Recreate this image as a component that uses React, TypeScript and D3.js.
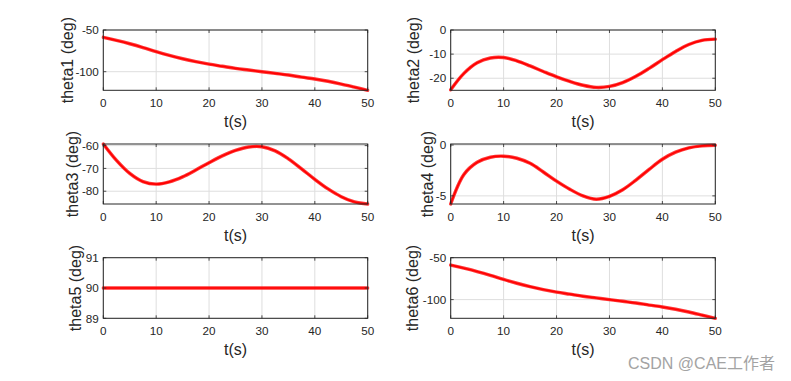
import React from "react";
import * as d3 from "d3";

const times = [0, 2.5, 5, 7.5, 10, 12.5, 15, 17.5, 20, 22.5, 25, 27.5, 30, 32.5, 35, 37.5, 40, 42.5, 45, 47.5, 50];

const theta1 = [-58.8, -62.5, -66.5, -71, -76, -80.5, -84.5, -88, -91, -93.5, -96, -98, -100, -102, -104, -106.5, -108.8, -111.5, -114.8, -118.5, -122.3];
const theta2 = [-24.8, -18, -13.6, -11.6, -11.4, -12.8, -14.9, -17.2, -19.4, -21.3, -22.9, -23.8, -23.4, -21.8, -19.2, -15.9, -12.3, -8.9, -6.0, -4.3, -3.8];
const theta3 = [-59.3, -66.5, -72.2, -75.8, -76.9, -75.9, -73.7, -70.7, -67.5, -64.5, -62.1, -60.6, -60.5, -62.3, -65.8, -70.2, -74.8, -79, -82.4, -84.7, -85.6];
const theta4 = [-5.8, -2.9, -1.7, -1.2, -1.1, -1.3, -1.8, -2.65, -3.55, -4.35, -5.0, -5.33, -5.05, -4.4, -3.45, -2.4, -1.4, -0.7, -0.28, -0.08, -0.03];
const theta5 = [90, 90, 90, 90, 90, 90, 90, 90, 90, 90, 90, 90, 90, 90, 90, 90, 90, 90, 90, 90, 90];
const theta6 = [-58.8, -62.5, -66.5, -71, -76, -80.5, -84.5, -88, -91, -93.5, -96, -98, -100, -102, -104, -106.5, -108.8, -111.5, -114.8, -118.5, -122.3];

const seriesList = [theta1, theta2, theta3, theta4, theta5, theta6];
const yLabels = ["theta1 (deg)", "theta2 (deg)", "theta3 (deg)", "theta4 (deg)", "theta5 (deg)", "theta6 (deg)"];
const yDomains: [number, number][] = [[-122.3, -50], [-25, 0], [-85.6, -59.3], [-5.8, 0.1], [89, 91], [-122.3, -50]];
const yTicks = [[-100, -50], [-20, -10, 0], [-80, -70, -60], [-5, 0], [89, 90, 91], [-100, -50]];
const xTicks = [0, 10, 20, 30, 40, 50];
const xLabel = "t(s)";
const watermark = "CSDN @CAE工作者";

const colLeft = [103.3, 450.7];
const colRight = [367.7, 715.3];
const rowTop = [30, 144, 257.7];
const rowBottom = [90.3, 204, 318.3];
const labelOffsets = [30, 32, 25, 18, 22, 33];

const FONT = "'Liberation Sans', Arial, Helvetica, sans-serif";
const AX = "#262626";

function Panel({ idx }: { idx: number }) {
  const col = idx % 2;
  const row = Math.floor(idx / 2);
  const x0 = colLeft[col], x1 = colRight[col];
  const y0 = rowTop[row], y1 = rowBottom[row];
  const xs = d3.scaleLinear().domain([0, 50]).range([x0, x1]);
  const ys = d3.scaleLinear().domain(yDomains[idx]).range([y1, y0]);
  const data = seriesList[idx];
  const line = d3
    .line<number>()
    .x((_, i) => xs(times[i]))
    .y((d) => ys(d))
    .curve(d3.curveCatmullRom.alpha(0.5));
  const path = line(data) || "";
  const clipId = `clip${idx}`;
  const tl = 3;
  return (
    <g>
      <defs>
        <clipPath id={clipId}>
          <rect x={x0 - 2} y={y0 - 2} width={x1 - x0 + 4} height={y1 - y0 + 4} />
        </clipPath>
      </defs>
      <rect x={x0} y={y0} width={x1 - x0} height={y1 - y0} fill="#fff" />
      {xTicks.map((t) => (
        <line key={"gx" + t} x1={xs(t)} x2={xs(t)} y1={y0} y2={y1} stroke="#dedede" strokeWidth={1} />
      ))}
      {yTicks[idx].map((t) => (
        <line key={"gy" + t} x1={x0} x2={x1} y1={ys(t)} y2={ys(t)} stroke="#dedede" strokeWidth={1} />
      ))}
      <g clipPath={`url(#${clipId})`}>
        <path d={path} fill="none" stroke="#ff2424" strokeWidth={3.4} strokeLinejoin="round" strokeLinecap="round" opacity={0.9} />
        <path d={path} fill="none" stroke="#ff0000" strokeWidth={1.6} strokeLinejoin="round" />
      </g>
      {xTicks.map((t) => (
        <g key={"tx" + t}>
          <line x1={xs(t)} x2={xs(t)} y1={y1} y2={y1 - tl} stroke={AX} strokeWidth={0.8} />
          <line x1={xs(t)} x2={xs(t)} y1={y0} y2={y0 + tl} stroke={AX} strokeWidth={0.8} />
          <text x={xs(t)} y={y1 + 17} textAnchor="middle" fontSize={11.7} fill={AX} fontFamily={FONT}>
            {t}
          </text>
        </g>
      ))}
      {yTicks[idx].map((t) => (
        <g key={"ty" + t}>
          <line x1={x0} x2={x0 + tl} y1={ys(t)} y2={ys(t)} stroke={AX} strokeWidth={0.8} />
          <line x1={x1} x2={x1 - tl} y1={ys(t)} y2={ys(t)} stroke={AX} strokeWidth={0.8} />
          <text x={x0 - 4.5} y={ys(t)} dy="0.36em" textAnchor="end" fontSize={11.7} fill={AX} fontFamily={FONT}>
            {t}
          </text>
        </g>
      ))}
      <rect x={x0} y={y0} width={x1 - x0} height={y1 - y0} fill="none" stroke={AX} strokeWidth={1} />
      <text x={(x0 + x1) / 2} y={y1 + 37} textAnchor="middle" fontSize={16} fill={AX} fontFamily={FONT}>
        {xLabel}
      </text>
      <text
        transform={`translate(${x0 - labelOffsets[idx]},${(y0 + y1) / 2}) rotate(-90)`}
        textAnchor="middle"
        fontSize={16}
        fill={AX}
        fontFamily={FONT}
      >
        {yLabels[idx]}
      </text>
    </g>
  );
}

export default function App() {
  return (
    <div style={{ position: "absolute", left: 0, top: 0 }}>
      <svg width={791} height={381} style={{ display: "block", background: "#fff" }}>
        <rect x={0} y={0} width={791} height={381} fill="#fff" />
        {seriesList.map((_, i) => (
          <Panel key={i} idx={i} />
        ))}
        <text x={775} y={369} textAnchor="end" fontSize={16} fill="#a3a3a3" fontFamily={`'Liberation Sans', Arial, 'Noto Sans CJK SC', sans-serif`}>
          {watermark}
        </text>
      </svg>
    </div>
  );
}
